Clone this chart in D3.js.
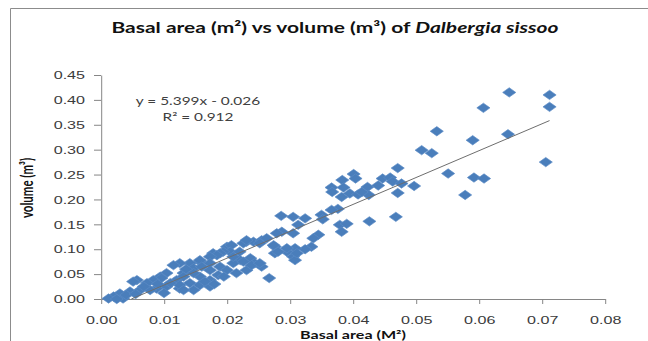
<!DOCTYPE html>
<html>
<head>
<meta charset="utf-8">
<script src="https://cdn.jsdelivr.net/npm/d3@7"></script>
<style>
  body { margin: 0; background: #fff; }
  svg { display: block; font-family: Lato, "Open Sans", sans-serif; }
  .axis path, .axis line { stroke: #868686; vector-effect: non-scaling-stroke; }
  .axis text { fill: #3b3b3b; font-size: 11.5px; }
</style>
</head>
<body>
<svg id="chart" width="648" height="341"></svg>
<script>
// basal area (m2) and volume (m3)
const basalArea = [
  0.0648, 0.0712, 0.0712, 0.0607, 0.0533, 0.0590, 0.0646, 0.0509, 0.0525, 0.0706,
  0.0551, 0.0592, 0.0608, 0.0578, 0.0471, 0.0497, 0.0471, 0.0468, 0.0426, 0.0401,
  0.0404, 0.0383, 0.0366, 0.0367, 0.0385, 0.0382, 0.0395, 0.0408, 0.0423, 0.0425,
  0.0440, 0.0447, 0.0459, 0.0463, 0.0477, 0.0414, 0.0379, 0.0390, 0.0382, 0.0376,
  0.0366, 0.0350, 0.0352, 0.0305, 0.0324, 0.0313, 0.0305, 0.0345, 0.0337, 0.0334,
  0.0324, 0.0308, 0.0305, 0.0308,
  0.0286, 0.0287, 0.0279, 0.0276, 0.0276, 0.0295, 0.0295, 0.0281, 0.0274, 0.0311,
  0.0231, 0.0242, 0.0255, 0.0263, 0.0226, 0.0231, 0.0252, 0.0200, 0.0207, 0.0205,
  0.0194, 0.0189, 0.0178, 0.0184, 0.0173, 0.0221, 0.0237, 0.0244, 0.0255, 0.0231,
  0.0210, 0.0226, 0.0239, 0.0252, 0.0267, 0.0189, 0.0173, 0.0157, 0.0141, 0.0125,
  0.0157, 0.0115, 0.0147, 0.0131, 0.0157, 0.0173, 0.0186, 0.0173, 0.0200, 0.0215,
  0.0141, 0.0120, 0.0104, 0.0094, 0.0096, 0.0131, 0.0147, 0.0083, 0.0073, 0.0057,
  0.0051, 0.0062, 0.0046, 0.0030, 0.0020, 0.0012, 0.0035, 0.0025, 0.0104, 0.0088,
  0.0078, 0.0125, 0.0147, 0.0157, 0.0173, 0.0125, 0.0131, 0.0068, 0.0090, 0.0110,
  0.0100, 0.0040, 0.0055, 0.0165, 0.0180, 0.0195, 0.0160, 0.0135, 0.0210, 0.0220
];
const volume = [
  0.415, 0.410, 0.386, 0.384, 0.337, 0.319, 0.331, 0.299, 0.293, 0.275,
  0.252, 0.244, 0.242, 0.209, 0.263, 0.227, 0.213, 0.165, 0.156, 0.251,
  0.242, 0.239, 0.224, 0.215, 0.224, 0.205, 0.212, 0.210, 0.225, 0.209,
  0.228, 0.242, 0.244, 0.236, 0.232, 0.215, 0.149, 0.151, 0.135, 0.181,
  0.179, 0.169, 0.160, 0.165, 0.162, 0.149, 0.132, 0.129, 0.122, 0.105,
  0.100, 0.102, 0.085, 0.078,
  0.167, 0.135, 0.132, 0.105, 0.092, 0.095, 0.102, 0.095, 0.108, 0.092,
  0.115, 0.115, 0.118, 0.122, 0.112, 0.118, 0.112, 0.105, 0.108, 0.095,
  0.095, 0.092, 0.092, 0.088, 0.085, 0.078, 0.082, 0.072, 0.065, 0.058,
  0.072, 0.075, 0.068, 0.072, 0.042, 0.065, 0.072, 0.075, 0.072, 0.072,
  0.078, 0.068, 0.062, 0.052, 0.045, 0.038, 0.048, 0.058, 0.058, 0.052,
  0.032, 0.038, 0.052, 0.045, 0.042, 0.045, 0.052, 0.038, 0.032, 0.038,
  0.035, 0.018, 0.015, 0.011, 0.005, 0.001, 0.001, 0.000, 0.025, 0.021,
  0.018, 0.021, 0.018, 0.028, 0.025, 0.028, 0.018, 0.025, 0.030, 0.032,
  0.012, 0.008, 0.010, 0.035, 0.030, 0.045, 0.065, 0.060, 0.085, 0.095
];

const xTicks = [0, 0.01, 0.02, 0.03, 0.04, 0.05, 0.06, 0.07, 0.08];
const yTicks = [0, 0.05, 0.10, 0.15, 0.20, 0.25, 0.30, 0.35, 0.40, 0.45];

// linear trend shown on the chart
const slope = 5.399;
const intercept = -0.026;
const eqLabels = ['y = 5.399x - 0.026', 'R\u00b2 = 0.912'];

const titleText = 'Basal area (m\u00b2) vs volume (m\u00b3) of ';
const titleItalic = 'Dalbergia sissoo';

// the reference picture is stretched sideways, so draw in a narrower space and stretch it
const SX = 1.4;

const svg = d3.select('#chart');
const g = svg.append('g').attr('transform', `scale(${SX},1)`);

const x = d3.scaleLinear().domain([0, 0.08]).range([101 / SX, 605 / SX]);
const y = d3.scaleLinear().domain([0, 0.45]).range([299, 75]);

// chart frame
g.append('rect')
  .attr('x', 10.5 / SX).attr('y', 8.5)
  .attr('width', 700).attr('height', 400)
  .attr('fill', 'none').attr('stroke', '#8c8c8c')
  .style('vector-effect', 'non-scaling-stroke');

// title
const title = g.append('text')
  .attr('x', 335 / SX).attr('y', 33)
  .attr('text-anchor', 'middle')
  .style('font-size', '15px').style('font-weight', 'bold').attr('fill', '#111');
title.append('tspan').text(titleText);
title.append('tspan').style('font-style', 'italic').text(titleItalic);

// axes
g.append('g')
  .attr('class', 'axis')
  .attr('transform', `translate(${x(0)},0)`)
  .call(d3.axisLeft(y).tickValues(yTicks).tickFormat(d3.format('.2f')).tickSize(7 / SX).tickSizeOuter(0).tickPadding(9 / SX));

g.append('g')
  .attr('class', 'axis')
  .attr('transform', `translate(0,${y(0)})`)
  .call(d3.axisBottom(x).tickValues(xTicks).tickFormat(d3.format('.2f')).tickSize(5).tickSizeOuter(0).tickPadding(12));

g.selectAll('.axis .domain').attr('stroke', '#868686');

// axis titles
g.append('text')
  .attr('transform', `translate(${27 / SX},188) rotate(-90)`)
  .attr('text-anchor', 'middle')
  .attr('dy', '0.35em')
  .style('font-size', '11.5px').style('font-weight', 'bold').attr('fill', '#111')
  .text('volume (m\u00b3)');

g.append('text')
  .attr('x', x(0.04)).attr('y', 339)
  .attr('text-anchor', 'middle')
  .style('font-size', '11.5px').style('font-weight', 'bold').attr('fill', '#111')
  .text('Basal area (M\u00b2)');

// points
const points = basalArea.map((b, i) => ({ b, v: volume[i] }));
const diamond = d3.symbol().type(d3.symbolSquare).size(44);

g.append('g')
  .selectAll('path')
  .data(points)
  .join('path')
  .attr('d', diamond)
  .attr('transform', d => `translate(${x(d.b)},${y(d.v)}) rotate(45)`)
  .attr('fill', '#4a7ebb')
  .attr('stroke', '#5b8cc6')
  .attr('stroke-width', 0.5);

// trend line from where it crosses zero to the largest basal area
const x0 = -intercept / slope;
const x1 = d3.max(basalArea);
g.append('line')
  .attr('x1', x(x0)).attr('y1', y(slope * x0 + intercept))
  .attr('x2', x(x1)).attr('y2', y(slope * x1 + intercept))
  .attr('stroke', '#6e6e6e')
  .attr('stroke-width', 1)
  .style('vector-effect', 'non-scaling-stroke');

// equation
g.selectAll('text.eq')
  .data(eqLabels)
  .join('text')
  .attr('class', 'eq')
  .attr('x', 198 / SX)
  .attr('y', (d, i) => 105 + i * 16)
  .attr('text-anchor', 'middle')
  .style('font-size', '11px').attr('fill', '#404040')
  .text(d => d);
</script>
</body>
</html>
